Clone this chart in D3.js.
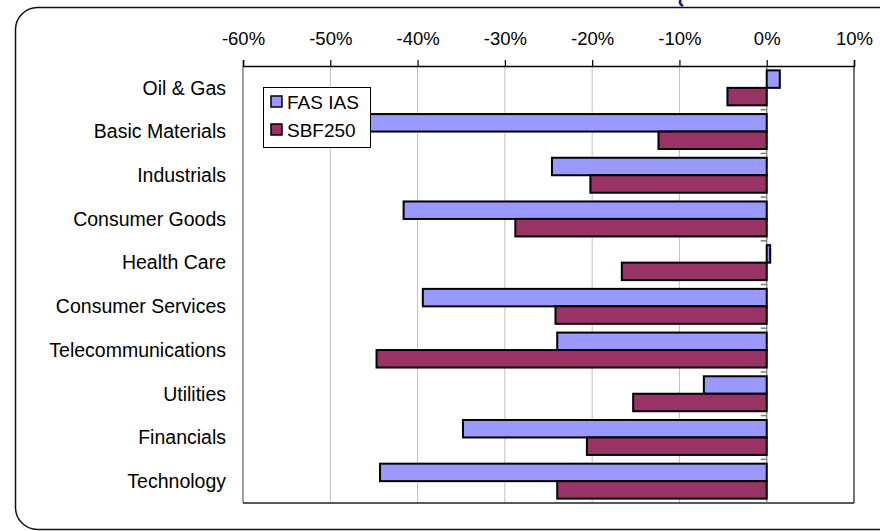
<!DOCTYPE html>
<html><head><meta charset="utf-8">
<script src="https://cdn.jsdelivr.net/npm/d3@7"></script>
<style>html,body{margin:0;padding:0;background:#fff;}svg{display:block;}</style>
</head><body>
<svg id="chart" width="880" height="531"></svg>
<script>
const categories = ["Oil & Gas","Basic Materials","Industrials","Consumer Goods","Health Care","Consumer Services","Telecommunications","Utilities","Financials","Technology"];
const seriesNames = ["FAS IAS","SBF250"];
const fasIas = [1.5,-48,-24.6,-41.6,0.4,-39.4,-24.0,-7.2,-34.8,-44.3];
const sbf250 = [-4.5,-12.4,-20.2,-28.8,-16.6,-24.2,-44.7,-15.3,-20.6,-24.0];
const tickValues = [-60,-50,-40,-30,-20,-10,0,10];
const colors = ["#9999FF","#993366"];

const svg = d3.select("#chart");
const font = "'Liberation Sans', Arial, sans-serif";

// frame
svg.append("rect").attr("x",15.5).attr("y",7.5).attr("width",900).attr("height",522)
  .attr("rx",22).attr("ry",22).attr("fill","none").attr("stroke","#111").attr("stroke-width",1.5);
// partial logo mark
svg.append("path").attr("d","M681,0 Q678,3 683,6").attr("fill","none").attr("stroke","#1a1a8c").attr("stroke-width",2.5);

const L = 243, R = 854, T = 66, B = 503;
const x = d3.scaleLinear().domain([-60,10]).range([L,R]);
const y = d3.scaleBand().domain(categories).range([T,B]).paddingInner(0.2).paddingOuter(0.1);
const y0 = d3.scaleBand().domain(categories).range([T,B]);
const ys = d3.scaleBand().domain(seriesNames).range([0,y.bandwidth()]);

// gridlines
svg.append("g").selectAll("line").data(tickValues.filter(v=>v>-60 && v<10)).join("line")
  .attr("x1",d=>x(d)).attr("x2",d=>x(d)).attr("y1",T).attr("y2",B)
  .attr("stroke","#c0c0c0").attr("stroke-width",1);

// plot border
svg.append("line").attr("x1",L).attr("x2",L).attr("y1",T).attr("y2",B).attr("stroke","#808080").attr("stroke-width",1.5);
svg.append("line").attr("x1",R).attr("x2",R).attr("y1",T).attr("y2",B).attr("stroke","#444").attr("stroke-width",1.5);
svg.append("line").attr("x1",L).attr("x2",R).attr("y1",B).attr("y2",B).attr("stroke","#222").attr("stroke-width",1.5);

// zero axis with ticks
svg.append("line").attr("x1",x(0)).attr("x2",x(0)).attr("y1",T).attr("y2",B).attr("stroke","#808080").attr("stroke-width",1.2);
svg.append("g").selectAll("line").data(categories.slice(1)).join("line")
  .attr("x1",x(0)-6).attr("x2",x(0)).attr("y1",d=>y0(d)).attr("y2",d=>y0(d))
  .attr("stroke","#808080").attr("stroke-width",1.5);

// bars
const groups = svg.append("g").selectAll("g").data(categories).join("g")
  .attr("transform",d=>`translate(0,${y(d)})`);
[fasIas, sbf250].forEach((vals,si)=>{
  groups.append("rect")
    .attr("x",(d,i)=>x(Math.min(0,vals[i])))
    .attr("width",(d,i)=>Math.abs(x(vals[i])-x(0)))
    .attr("y",ys(seriesNames[si]))
    .attr("height",ys.bandwidth())
    .attr("fill",colors[si]).attr("stroke","#000").attr("stroke-width",2);
});

// top axis
const axis = d3.axisTop(x).tickValues(tickValues).tickFormat(d=>d+"%").tickSize(6).tickPadding(15);
const ag = svg.append("g").attr("transform",`translate(0,${T})`).call(axis);
ag.select(".domain").attr("stroke","#000").attr("stroke-width",1.5);
ag.selectAll(".tick line").attr("stroke","#000").attr("stroke-width",1.2);
ag.selectAll(".tick text").attr("font-family",font).attr("font-size",18.5).attr("fill","#000");

// category labels
svg.append("g").selectAll("text").data(categories).join("text")
  .attr("x",226).attr("y",d=>y0(d)+y0.bandwidth()/2).attr("dy","0.35em")
  .attr("text-anchor","end").attr("font-family",font).attr("font-size",19.5).attr("fill","#000")
  .text(d=>d);

// legend
const lg = svg.append("g");
lg.append("rect").attr("x",263.5).attr("y",87.5).attr("width",107).attr("height",60)
  .attr("fill","#fff").attr("stroke","#000").attr("stroke-width",1);
seriesNames.forEach((n,i)=>{
  lg.append("rect").attr("x",271).attr("y",96+i*28).attr("width",11).attr("height",11)
    .attr("fill",colors[i]).attr("stroke","#000").attr("stroke-width",1.5);
  lg.append("text").attr("x",287).attr("y",102+i*28).attr("dy","0.35em")
    .attr("font-family",font).attr("font-size",19).attr("fill","#000").text(n);
});
</script>
</body></html>
